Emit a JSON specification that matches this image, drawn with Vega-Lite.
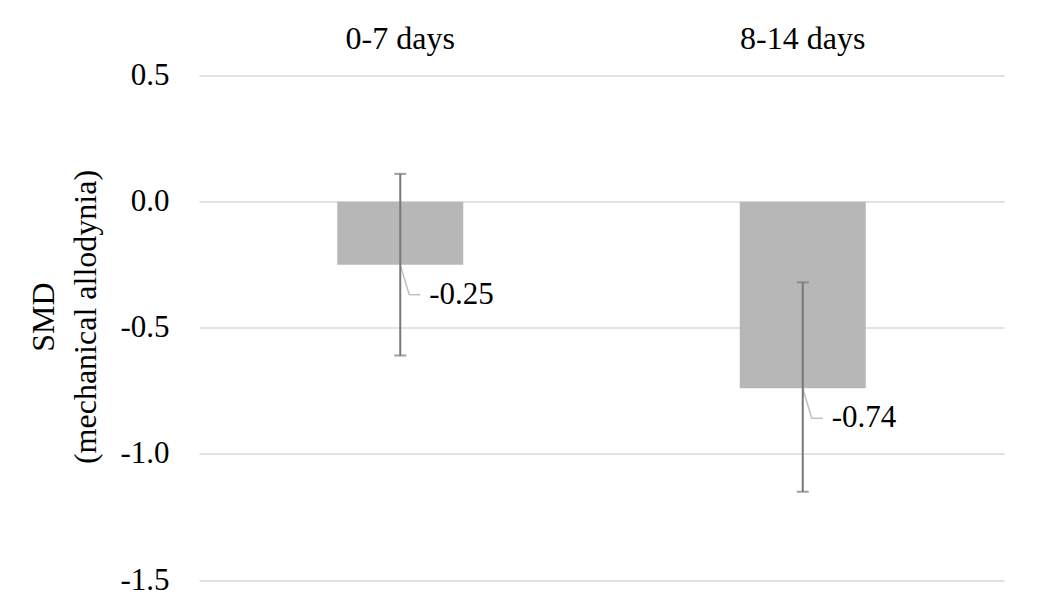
{
  "$schema": "https://vega.github.io/schema/vega-lite/v6.json",
  "width": 805,
  "height": 504.5,
  "autosize": "none",
  "padding": {"left": 199, "top": 75.5, "right": 33, "bottom": 35},
  "background": "white",
  "data": {
    "values": [
      {"period": "0-7 days", "smd": -0.25, "lo": -0.61, "hi": 0.11},
      {"period": "8-14 days", "smd": -0.74, "lo": -1.15, "hi": -0.32}
    ]
  },
  "encoding": {
    "x": {
      "field": "period",
      "type": "nominal",
      "sort": null,
      "scale": {"paddingInner": 0, "paddingOuter": 0},
      "axis": {
        "orient": "top",
        "title": null,
        "labelAngle": 0,
        "ticks": false,
        "domain": false,
        "grid": false,
        "labelPadding": 20,
        "labelFontSize": 32,
        "labelFont": "Liberation Serif",
        "labelColor": "#000000"
      }
    }
  },
  "layer": [
    {
      "mark": {"type": "bar", "size": 126, "color": "#b7b7b7"},
      "encoding": {
        "y": {
          "field": "smd",
          "type": "quantitative",
          "scale": {"domain": [-1.5, 0.5], "nice": false, "zero": false},
          "axis": {
            "values": [-1.5, -1.0, -0.5, 0.0, 0.5],
            "labelExpr": "replace(format(datum.value, '.1f'), '\u2212', '-')",
            "ticks": false,
            "domain": false,
            "gridColor": "#d9d9d9",
            "gridWidth": 1.5,
            "labelPadding": 30,
            "labelFontSize": 31,
            "labelFont": "Liberation Serif",
            "labelColor": "#000000",
            "title": ["SMD", "(mechanical allodynia)"],
            "titleFont": "Liberation Serif",
            "titleFontSize": 32,
            "titleFontWeight": "normal",
            "titleColor": "#000000",
            "titleLineHeight": 42,
            "titlePadding": 17,
            "titleY": 241
          }
        }
      }
    },
    {
      "mark": {"type": "rule", "color": "#bfbfbf", "strokeWidth": 1.5, "x2Offset": 9, "y2Offset": 30},
      "encoding": {
        "x2": {"field": "period"},
        "y": {"field": "smd", "type": "quantitative"},
        "y2": {"field": "smd"}
      }
    },
    {
      "mark": {"type": "rule", "color": "#bfbfbf", "strokeWidth": 1.5, "xOffset": 9, "x2Offset": 20, "yOffset": 30, "y2Offset": 30},
      "encoding": {
        "x2": {"field": "period"},
        "y": {"field": "smd", "type": "quantitative"},
        "y2": {"field": "smd"}
      }
    },
    {
      "mark": {"type": "rule", "color": "#777777", "strokeWidth": 2},
      "encoding": {
        "y": {"field": "lo", "type": "quantitative"},
        "y2": {"field": "hi"}
      }
    },
    {
      "mark": {"type": "tick", "color": "#777777", "size": 12, "thickness": 2, "orient": "horizontal"},
      "encoding": {
        "y": {"field": "lo", "type": "quantitative"}
      }
    },
    {
      "mark": {"type": "tick", "color": "#777777", "size": 12, "thickness": 2, "orient": "horizontal"},
      "encoding": {
        "y": {"field": "hi", "type": "quantitative"}
      }
    },
    {
      "transform": [
        {"calculate": "replace(format(datum.smd, '.2f'), '\u2212', '-')", "as": "smd_label"}
      ],
      "mark": {"type": "text", "align": "left", "baseline": "middle", "dx": 29, "dy": 30, "font": "Liberation Serif", "fontSize": 31, "color": "#000000"},
      "encoding": {
        "y": {"field": "smd", "type": "quantitative"},
        "text": {"field": "smd_label", "type": "nominal"}
      }
    }
  ],
  "config": {
    "view": {"stroke": null}
  }
}
